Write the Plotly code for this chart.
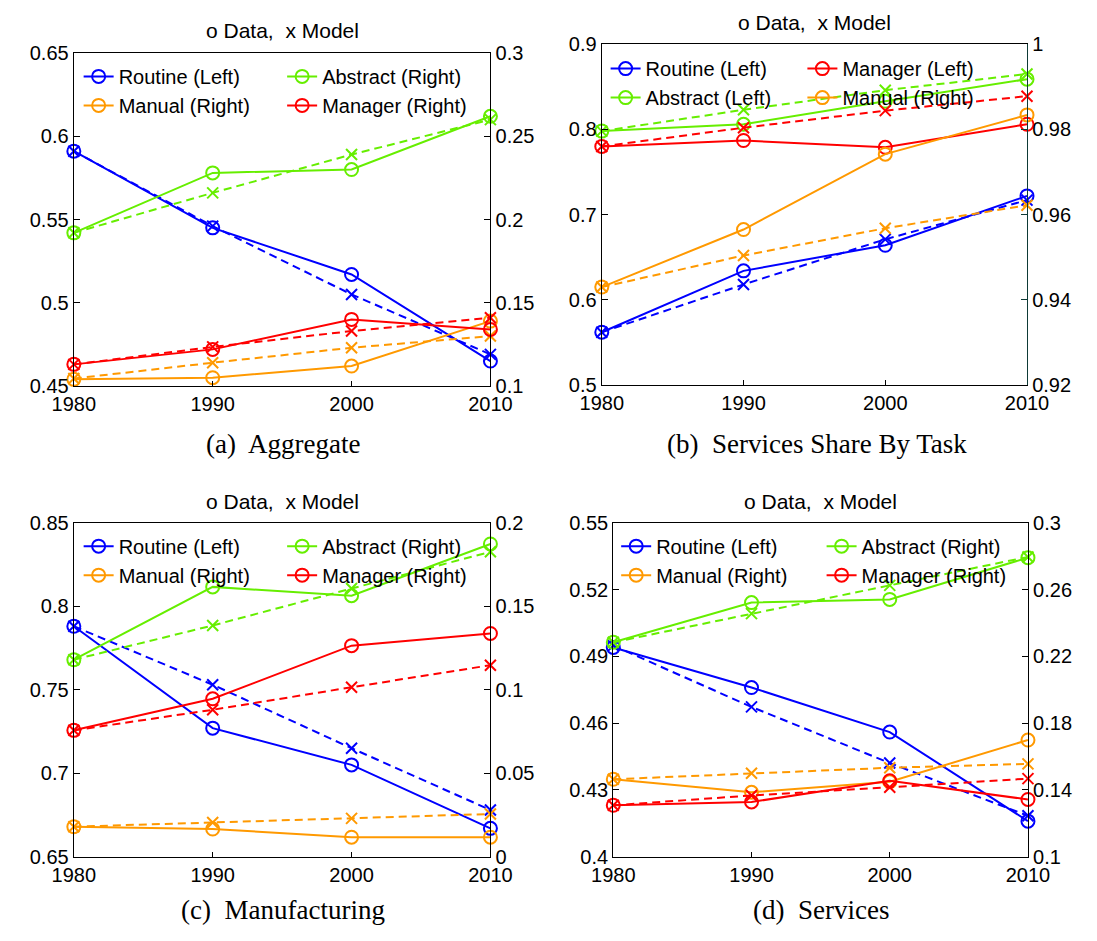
import plotly.graph_objects as go

W, H = 1097, 941

years = [1980, 1990, 2000, 2010]
year_ticks = ["1980", "1990", "2000", "2010"]

# ---- (a) Aggregate ----
a_routine_data = [0.591, 0.545, 0.517, 0.465]
a_routine_model = [0.591, 0.546, 0.505, 0.469]
a_manual_data = [0.104, 0.105, 0.112, 0.139]
a_manual_model = [0.1045, 0.114, 0.123, 0.130]
a_abstract_data = [0.192, 0.228, 0.230, 0.262]
a_abstract_model = [0.192, 0.216, 0.239, 0.260]
a_manager_data = [0.113, 0.122, 0.140, 0.134]
a_manager_model = [0.113, 0.1235, 0.133, 0.141]

# ---- (b) Services Share By Task ----
b_routine_data = [0.562, 0.634, 0.664, 0.722]
b_routine_model = [0.562, 0.618, 0.671, 0.717]
b_manager_data = [0.780, 0.787, 0.779, 0.806]
b_manager_model = [0.780, 0.802, 0.822, 0.839]
b_abstract_data = [0.798, 0.806, 0.833, 0.859]
b_abstract_model = [0.798, 0.823, 0.846, 0.865]
b_manual_data = [0.943, 0.9565, 0.9742, 0.9834]
b_manual_model = [0.943, 0.9504, 0.9568, 0.9622]

# ---- (c) Manufacturing ----
c_routine_data = [0.788, 0.727, 0.705, 0.667]
c_routine_model = [0.788, 0.753, 0.715, 0.678]
c_manual_data = [0.018, 0.0166, 0.0117, 0.0117]
c_manual_model = [0.018, 0.0205, 0.023, 0.0256]
c_abstract_data = [0.118, 0.1616, 0.1563, 0.1873]
c_abstract_model = [0.118, 0.1385, 0.1606, 0.1826]
c_manager_data = [0.0757, 0.0946, 0.1264, 0.1337]
c_manager_model = [0.0757, 0.088, 0.1015, 0.1147]

# ---- (d) Services ----
d_routine_data = [0.494, 0.476, 0.456, 0.416]
d_routine_model = [0.4948, 0.4673, 0.4421, 0.4184]
d_manual_data = [0.1464, 0.1386, 0.1449, 0.1699]
d_manual_model = [0.1464, 0.150, 0.1533, 0.1556]
d_abstract_data = [0.2284, 0.2522, 0.2541, 0.2791]
d_abstract_model = [0.2284, 0.2456, 0.2625, 0.2795]
d_manager_data = [0.1308, 0.1328, 0.1455, 0.1343]
d_manager_model = [0.1308, 0.1367, 0.1416, 0.1468]

# axis ranges and ticks
a_left_ticks = [0.45, 0.5, 0.55, 0.6, 0.65]
a_left_labels = ["0.45", "0.5", "0.55", "0.6", "0.65"]
a_right_ticks = [0.1, 0.15, 0.2, 0.25, 0.3]
a_right_labels = ["0.1", "0.15", "0.2", "0.25", "0.3"]

b_left_ticks = [0.5, 0.6, 0.7, 0.8, 0.9]
b_left_labels = ["0.5", "0.6", "0.7", "0.8", "0.9"]
b_right_ticks = [0.92, 0.94, 0.96, 0.98, 1.0]
b_right_labels = ["0.92", "0.94", "0.96", "0.98", "1"]

c_left_ticks = [0.65, 0.7, 0.75, 0.8, 0.85]
c_left_labels = ["0.65", "0.7", "0.75", "0.8", "0.85"]
c_right_ticks = [0, 0.05, 0.1, 0.15, 0.2]
c_right_labels = ["0", "0.05", "0.1", "0.15", "0.2"]

d_left_ticks = [0.4, 0.43, 0.46, 0.49, 0.52, 0.55]
d_left_labels = ["0.4", "0.43", "0.46", "0.49", "0.52", "0.55"]
d_right_ticks = [0.1, 0.14, 0.18, 0.22, 0.26, 0.3]
d_right_labels = ["0.1", "0.14", "0.18", "0.22", "0.26", "0.3"]

captions = ["(a)  Aggregate", "(b)  Services Share By Task", "(c)  Manufacturing", "(d)  Services"]
title_text = "o Data,  x Model"

BLUE = "#0000FF"
ORANGE = "#FF9900"
GREEN = "#66EE00"
RED = "#FF0000"

SANS = "Liberation Sans, Arial, sans-serif"
SERIF = "Liberation Serif, Times New Roman, serif"


def px_x(p):
    return p / W


def px_y(p):
    return 1 - p / H


# panel boxes in pixels: (left, right, top, bottom)
boxes = [(54, 488, 43, 384), (604, 1047, 34, 383), (54, 488, 524, 866), (616, 1048, 524, 866)]

panels = [
    dict(
        left_range=[0.45, 0.65], right_range=[0.1, 0.3],
        lt=a_left_ticks, ll=a_left_labels, rt=a_right_ticks, rl=a_right_labels,
        series=[
            ("Routine (Left)", BLUE, "L", a_routine_data, a_routine_model, 1),
            ("Manual (Right)", ORANGE, "R", a_manual_data, a_manual_model, 1),
            ("Abstract (Right)", GREEN, "R", a_abstract_data, a_abstract_model, 2),
            ("Manager (Right)", RED, "R", a_manager_data, a_manager_model, 2),
        ],
        leg=[(59, 47), (271, 47)], title_y=20, cap=(272, 443), rcolor="black",
    ),
    dict(
        left_range=[0.5, 0.9], right_range=[0.92, 1.0],
        lt=b_left_ticks, ll=b_left_labels, rt=b_right_ticks, rl=b_right_labels,
        series=[
            ("Routine (Left)", BLUE, "L", b_routine_data, b_routine_model, 1),
            ("Abstract (Left)", GREEN, "L", b_abstract_data, b_abstract_model, 1),
            ("Manager (Left)", RED, "L", b_manager_data, b_manager_model, 2),
            ("Manual (Right)", ORANGE, "R", b_manual_data, b_manual_model, 2),
        ],
        leg=[(608, 39), (813, 39)], title_y=12, cap=(828, 443), rcolor="#0e3a36",
    ),
    dict(
        left_range=[0.65, 0.85], right_range=[0, 0.2],
        lt=c_left_ticks, ll=c_left_labels, rt=c_right_ticks, rl=c_right_labels,
        series=[
            ("Routine (Left)", BLUE, "L", c_routine_data, c_routine_model, 1),
            ("Manual (Right)", ORANGE, "R", c_manual_data, c_manual_model, 1),
            ("Abstract (Right)", GREEN, "R", c_abstract_data, c_abstract_model, 2),
            ("Manager (Right)", RED, "R", c_manager_data, c_manager_model, 2),
        ],
        leg=[(59, 528), (271, 528)], title_y=502, cap=(272, 921), rcolor="black",
    ),
    dict(
        left_range=[0.4, 0.55], right_range=[0.1, 0.3],
        lt=d_left_ticks, ll=d_left_labels, rt=d_right_ticks, rl=d_right_labels,
        series=[
            ("Routine (Left)", BLUE, "L", d_routine_data, d_routine_model, 1),
            ("Manual (Right)", ORANGE, "R", d_manual_data, d_manual_model, 1),
            ("Abstract (Right)", GREEN, "R", d_abstract_data, d_abstract_model, 2),
            ("Manager (Right)", RED, "R", d_manager_data, d_manager_model, 2),
        ],
        leg=[(619, 528), (833, 528)], title_y=502, cap=(832, 921), rcolor="black",
    ),
]

fig = go.Figure()
layout = dict(
    width=W, height=H, margin=dict(l=0, r=0, t=0, b=0),
    paper_bgcolor="white", plot_bgcolor="rgba(0,0,0,0)",
    font=dict(family=SANS, size=20, color="black"),
    annotations=[],
)

tick_font = dict(family=SANS, size=20, color="black")

for i, (p, box) in enumerate(zip(panels, boxes)):
    n = i + 1
    xname = "x" if n == 1 else f"x{n}"
    yl_num = 2 * n - 1
    yr_num = 2 * n
    yl = "y" if yl_num == 1 else f"y{yl_num}"
    yr = f"y{yr_num}"
    l, r, t, b = box
    xdom = [px_x(l), px_x(r)]
    ydom = [px_y(b), px_y(t)]

    layout["xaxis" if n == 1 else f"xaxis{n}"] = dict(
        domain=xdom, anchor=yl, range=[1980, 2010],
        tickvals=years, ticktext=year_ticks, ticks="inside", ticklen=5,
        tickcolor="black", showline=True, linecolor="black", linewidth=1.3,
        mirror=True, showgrid=False, zeroline=False, tickfont=tick_font,
    )
    layout["yaxis" if yl_num == 1 else f"yaxis{yl_num}"] = dict(
        domain=ydom, anchor=xname, range=p["left_range"],
        tickvals=p["lt"], ticktext=p["ll"], ticks="inside", ticklen=6,
        tickcolor="black", showline=True, linecolor="black", linewidth=1.3,
        showgrid=False, zeroline=False, tickfont=tick_font,
    )
    layout[f"yaxis{yr_num}"] = dict(
        domain=ydom, anchor=xname, overlaying=yl, side="right",
        range=p["right_range"], tickvals=p["rt"], ticktext=p["rl"],
        ticks="inside", ticklen=6, tickcolor=p["rcolor"], showline=True,
        linecolor=p["rcolor"], linewidth=1.3, showgrid=False, zeroline=False,
        tickfont=tick_font,
    )

    for k, (lx, ly) in enumerate(p["leg"]):
        lname = f"legend{2 * i + k + 1}" if (2 * i + k) > 0 else "legend"
        layout[lname] = dict(
            x=px_x(lx), y=px_y(ly), xanchor="left", yanchor="top",
            orientation="v", bgcolor="rgba(0,0,0,0)", borderwidth=0,
            font=dict(family=SANS, size=20, color="black"), tracegroupgap=0,
        )

    for name, color, side, data, model, col in p["series"]:
        yref = yl if side == "L" else yr
        lname = f"legend{2 * i + col}" if (2 * i + col) > 1 else "legend"
        fig.add_trace(go.Scatter(
            x=years, y=model, xaxis=xname, yaxis=yref, mode="lines+markers",
            line=dict(color=color, width=2, dash="8px,5px"),
            marker=dict(symbol="x-thin-open", size=11, color=color,
                        line=dict(color=color, width=2)),
            showlegend=False, cliponaxis=False, hoverinfo="skip",
        ))
        fig.add_trace(go.Scatter(
            x=years, y=data, xaxis=xname, yaxis=yref, mode="lines+markers",
            name=name, legend=lname,
            line=dict(color=color, width=2),
            marker=dict(symbol="circle-open", size=13, color=color,
                        line=dict(color=color, width=2)),
            showlegend=True, cliponaxis=False,
        ))

    layout["annotations"].append(dict(
        text=title_text, xref="paper", yref="paper",
        x=px_x((l + r) / 2), y=px_y(p["title_y"]), xanchor="center",
        yanchor="middle", showarrow=False,
        font=dict(family=SANS, size=21, color="black"),
    ))
    cx, cy = p["cap"]
    layout["annotations"].append(dict(
        text=captions[i], xref="paper", yref="paper",
        x=px_x(cx), y=px_y(cy), xanchor="center", yanchor="middle",
        showarrow=False, font=dict(family=SERIF, size=27, color="black"),
    ))

fig.update_layout(**layout)
fig.write_html("out.html")
